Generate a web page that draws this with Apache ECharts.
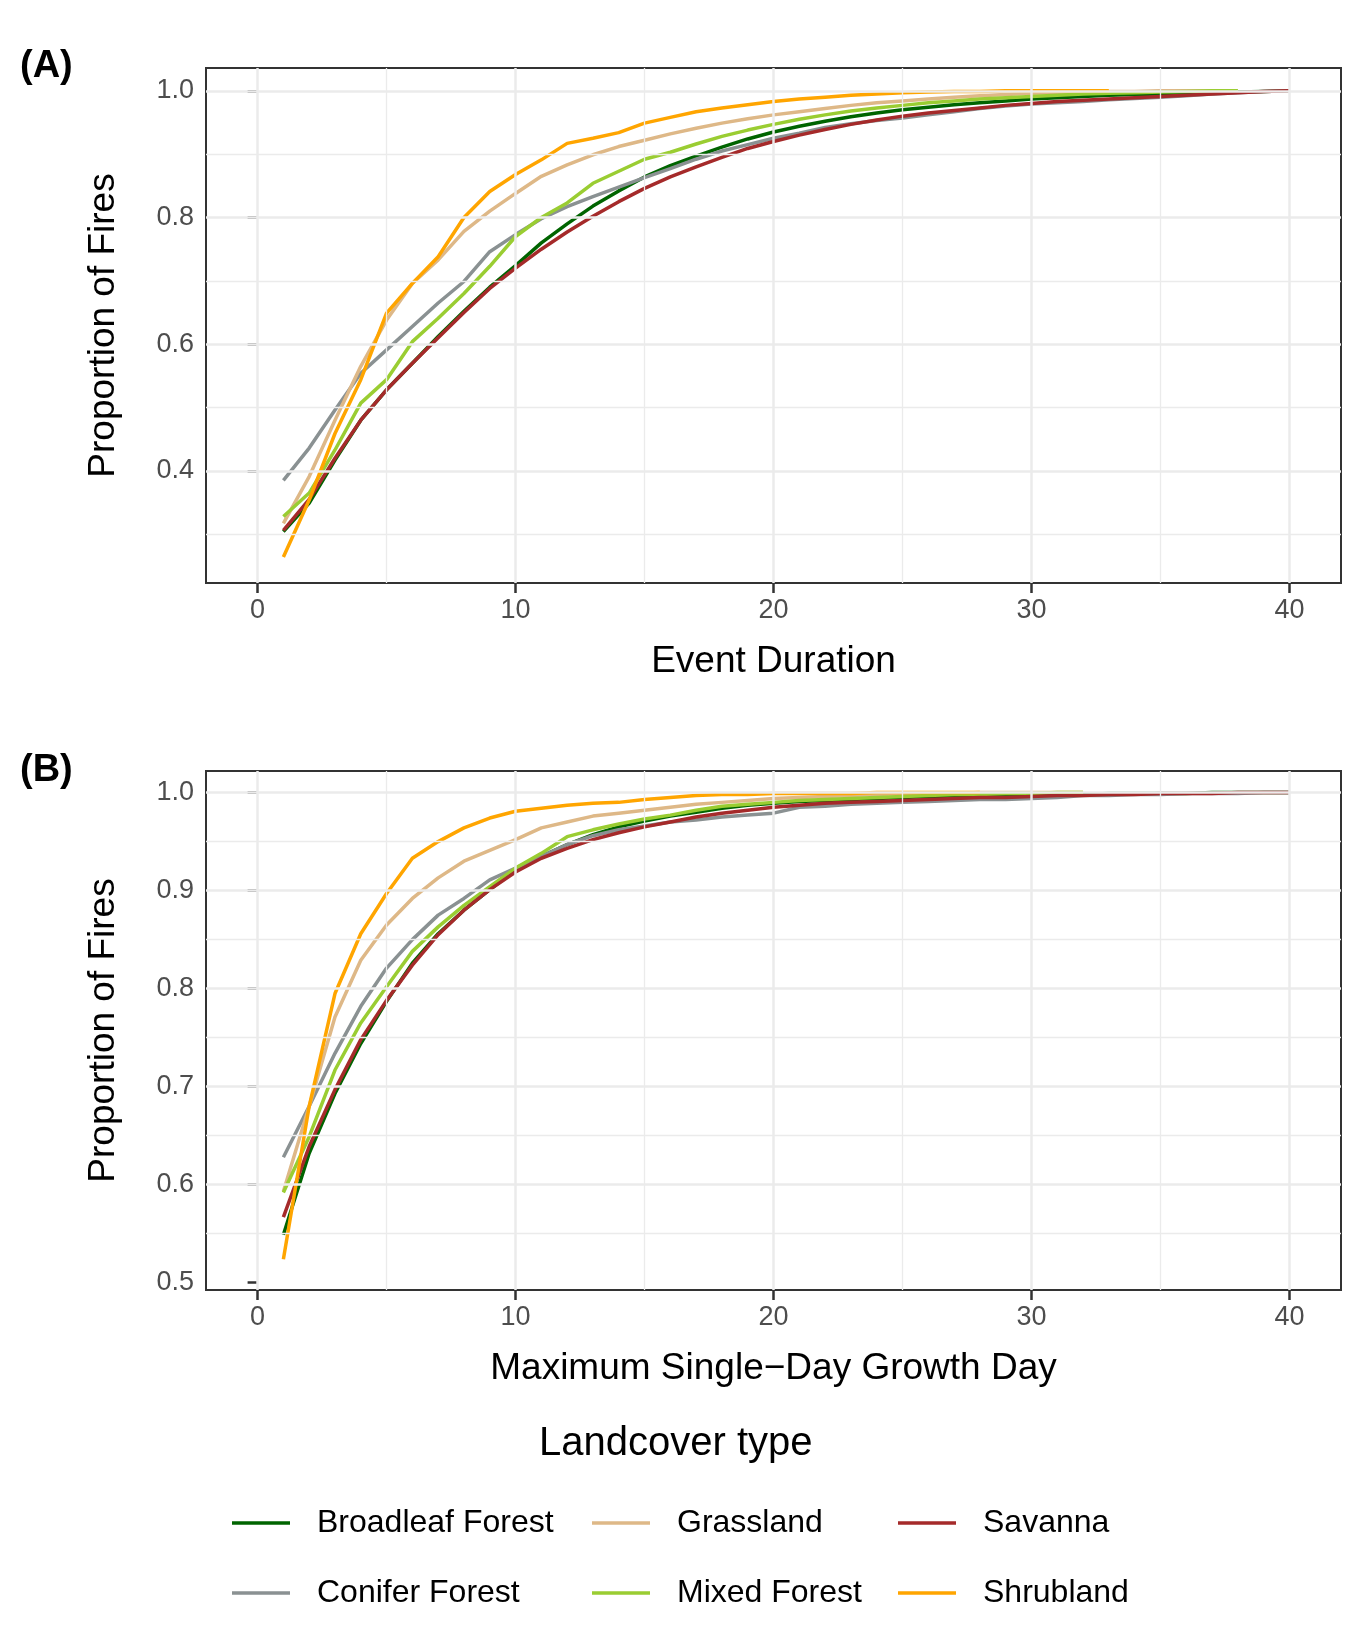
<!DOCTYPE html>
<html>
<head>
<meta charset="utf-8">
<script src="https://cdn.jsdelivr.net/npm/echarts@6/dist/echarts.min.js"></script>
<style>
  html, body { margin: 0; padding: 0; background: #fff; }
  #chart { width: 1354px; height: 1650px; }
</style>
</head>
<body>
<div id="chart"></div>
<script>
// panel A: event duration (day 1..n)
const durBroadleaf = [0.304,0.349,0.417,0.48,0.528,0.57,0.612,0.652,0.69,0.724,0.76,0.79,0.818,0.842,0.864,0.882,0.897,0.911,0.924,0.935,0.944,0.952,0.959,0.965,0.97,0.974,0.978,0.981,0.984,0.987,0.989,0.991,0.993,0.994,0.995,0.996,0.997,0.998,0.999,1.0];
const durConifer = [0.385,0.436,0.496,0.554,0.591,0.628,0.665,0.699,0.746,0.773,0.798,0.817,0.833,0.848,0.863,0.877,0.892,0.905,0.915,0.925,0.933,0.942,0.948,0.953,0.957,0.962,0.967,0.972,0.976,0.979,0.981,0.983,0.986,0.988,0.99,0.992,0.995,0.997,0.999,1.0];
const durGrassland = [0.317,0.391,0.48,0.565,0.638,0.696,0.733,0.778,0.81,0.838,0.865,0.883,0.899,0.912,0.922,0.932,0.941,0.949,0.956,0.962,0.967,0.972,0.977,0.981,0.984,0.987,0.99,0.992,0.994,0.996,0.997,0.998,0.999,0.999,1.0,1.0,1.0,1.0];
const durMixed = [0.328,0.365,0.433,0.507,0.544,0.604,0.641,0.68,0.723,0.77,0.80,0.823,0.854,0.873,0.892,0.903,0.916,0.928,0.938,0.947,0.955,0.962,0.968,0.973,0.977,0.981,0.984,0.987,0.989,0.991,0.993,0.995,0.996,0.997,0.998,0.999,1.0,1.0];
const durSavanna = [0.306,0.355,0.42,0.48,0.528,0.57,0.61,0.65,0.688,0.72,0.75,0.777,0.802,0.825,0.846,0.864,0.88,0.895,0.909,0.92,0.93,0.939,0.947,0.954,0.96,0.965,0.969,0.973,0.977,0.98,0.983,0.985,0.987,0.989,0.991,0.993,0.995,0.997,0.999,1.0];
const durShrubland = [0.264,0.354,0.459,0.544,0.649,0.696,0.738,0.80,0.841,0.868,0.891,0.917,0.925,0.934,0.949,0.958,0.967,0.973,0.978,0.983,0.987,0.99,0.993,0.995,0.997,0.998,0.999,0.999,1.0,1.0,1.0,1.0,1.0];

// panel B: maximum single-day growth day (day 1..n)
const grwBroadleaf = [0.549,0.632,0.693,0.744,0.787,0.826,0.856,0.88,0.901,0.921,0.935,0.947,0.957,0.965,0.971,0.976,0.98,0.984,0.987,0.989,0.991,0.992,0.993,0.994,0.995,0.996,0.996,0.997,0.997,0.998,0.998,0.998,0.999,0.999,0.999,0.999,1.0,1.0,1.0,1.0];
const grwConifer = [0.628,0.68,0.734,0.782,0.821,0.85,0.875,0.892,0.911,0.923,0.935,0.947,0.956,0.962,0.966,0.97,0.972,0.975,0.977,0.979,0.985,0.986,0.988,0.989,0.99,0.991,0.992,0.993,0.993,0.994,0.995,0.997,0.997,0.998,0.998,0.999,0.999,0.999,1.0,1.0];
const grwGrassland = [0.593,0.68,0.771,0.829,0.865,0.892,0.913,0.93,0.941,0.952,0.964,0.97,0.976,0.979,0.982,0.985,0.988,0.99,0.992,0.994,0.995,0.996,0.997,0.998,0.999,0.999,0.999,1.0,1.0,1.0,1.0,1.0];
const grwMixed = [0.592,0.649,0.717,0.765,0.802,0.838,0.863,0.885,0.904,0.923,0.938,0.955,0.962,0.968,0.973,0.977,0.982,0.986,0.988,0.99,0.992,0.993,0.994,0.995,0.996,0.997,0.998,0.998,0.999,0.999,1.0,1.0];
const grwSavanna = [0.567,0.639,0.697,0.748,0.788,0.824,0.855,0.88,0.901,0.919,0.933,0.943,0.952,0.959,0.965,0.97,0.975,0.979,0.982,0.985,0.987,0.989,0.99,0.991,0.992,0.993,0.994,0.995,0.995,0.996,0.997,0.997,0.998,0.998,0.999,0.999,0.999,1.0,1.0,1.0];
const grwShrubland = [0.524,0.68,0.795,0.856,0.897,0.933,0.95,0.964,0.974,0.981,0.984,0.987,0.989,0.99,0.993,0.995,0.997,0.998,0.998,0.999,0.999,0.999,0.999,1.0,1.0,1.0,1.0,1.0];

const landcover = ['Broadleaf Forest','Conifer Forest','Grassland','Mixed Forest','Savanna','Shrubland'];
const colors = ['#006400','#8a9192','#deb887','#9acd32','#a52a2a','#ffa500'];
const durSeries = [durBroadleaf,durConifer,durGrassland,durMixed,durSavanna,durShrubland];
const grwSeries = [grwBroadleaf,grwConifer,grwGrassland,grwMixed,grwSavanna,grwShrubland];

const xTicks = [0,10,20,30,40];
const xGrid = [0,5,10,15,20,25,30,35,40];
const yTicksA = [0.4,0.6,0.8,1.0];
const yGridA = [0.3,0.4,0.5,0.6,0.7,0.8,0.9,1.0];
const yTicksB = [0.5,0.6,0.7,0.8,0.9,1.0];
const yGridB = [0.55,0.6,0.65,0.7,0.75,0.8,0.85,0.9,0.95,1.0];

const chart = echarts.init(document.getElementById('chart'));

const grids = [
  { left: 206, width: 1135, top: 68, height: 515, show: true, borderColor: '#333', borderWidth: 2 },
  { left: 206, width: 1135, top: 771, height: 519, show: true, borderColor: '#333', borderWidth: 2 }
];

function xAxisFor(i, name) {
  return {
    type: 'value', gridIndex: i, min: -2, max: 42,
    name: name, nameLocation: 'middle', nameGap: 60,
    nameTextStyle: { fontSize: 37, color: '#000', fontFamily: 'Liberation Sans' },
    axisLine: { show: false },
    axisTick: { show: true, inside: false, customValues: xTicks, length: 10, lineStyle: { color: '#333', width: 2.5 } },
    axisLabel: { customValues: xTicks, fontSize: 27, color: '#4d4d4d', margin: 14, fontFamily: 'Liberation Sans' },
    splitLine: { show: false }
  };
}
function yAxisFor(i, min, max, ticks) {
  return {
    type: 'value', gridIndex: i, min: min, max: max,
    name: 'Proportion of Fires', nameLocation: 'middle', nameGap: 84,
    nameTextStyle: { fontSize: 37, color: '#000', fontFamily: 'Liberation Sans' },
    axisLine: { show: false },
    axisTick: { show: true, inside: false, customValues: ticks, length: 10, lineStyle: { color: '#333', width: 2.5 } },
    axisLabel: { customValues: ticks, fontSize: 27, color: '#4d4d4d', margin: 12, fontFamily: 'Liberation Sans',
      formatter: v => v.toFixed(1) },
    splitLine: { show: false }
  };
}

function ticksHas(i, v) {
  const t = i === 0 ? yTicksA : yTicksB;
  return t.some(x => Math.abs(x - v) < 1e-9);
}
function gridSeries(i, ys) {
  const lines = [];
  xGrid.forEach(v => lines.push({ xAxis: v, lineStyle: { width: v % 10 === 0 ? 2.5 : 1.3 } }));
  ys.forEach(v => lines.push({ yAxis: v, lineStyle: { width: ticksHas(i, v) ? 2.5 : 1.3 } }));
  return {
    type: 'line', xAxisIndex: i, yAxisIndex: i, data: [], silent: true, z: 1,
    markLine: { silent: true, symbol: 'none', label: { show: false }, animation: false,
      lineStyle: { color: '#ebebeb', type: 'solid' }, data: lines }
  };
}

const series = [gridSeries(0, yGridA), gridSeries(1, yGridB)];
landcover.forEach((name, k) => {
  series.push({
    name: name, type: 'line', xAxisIndex: 0, yAxisIndex: 0, showSymbol: false, z: 3,
    lineStyle: { width: 3.5, color: colors[k] }, itemStyle: { color: colors[k] },
    data: durSeries[k].map((v, j) => [j + 1, v])
  });
  series.push({
    name: name, type: 'line', xAxisIndex: 1, yAxisIndex: 1, showSymbol: false, z: 3,
    lineStyle: { width: 3.5, color: colors[k] }, itemStyle: { color: colors[k] },
    data: grwSeries[k].map((v, j) => [j + 1, v])
  });
});

function legendCol(left, names) {
  return {
    left: left, top: 1502, orient: 'vertical', itemGap: 38,
    itemWidth: 58, itemHeight: 3.5, icon: 'rect',
    textStyle: { fontSize: 32, color: '#000', padding: [0, 0, 0, 22], fontFamily: 'Liberation Sans' },
    data: names
  };
}

chart.setOption({
  animation: false,
  grid: grids,
  xAxis: [xAxisFor(0, 'Event Duration'), xAxisFor(1, 'Maximum Single\u2212Day Growth Day')],
  yAxis: [yAxisFor(0, 0.223, 1.036, yTicksA), yAxisFor(1, 0.4926, 1.022, yTicksB)],
  legend: [
    legendCol(227, ['Broadleaf Forest', 'Conifer Forest']),
    legendCol(587, ['Grassland', 'Mixed Forest']),
    legendCol(893, ['Savanna', 'Shrubland'])
  ],
  graphic: [
    { type: 'text', left: 20, top: 48, style: { text: '(A)', fontSize: 38, fontWeight: 'bold', fill: '#000', fontFamily: 'Liberation Sans' } },
    { type: 'text', left: 20, top: 752, style: { text: '(B)', fontSize: 38, fontWeight: 'bold', fill: '#000', fontFamily: 'Liberation Sans' } },
    { type: 'text', left: 539, top: 1424, style: { text: 'Landcover type', fontSize: 40, fill: '#000', fontFamily: 'Liberation Sans' } }
  ],
  series: series
});
</script>
</body>
</html>
